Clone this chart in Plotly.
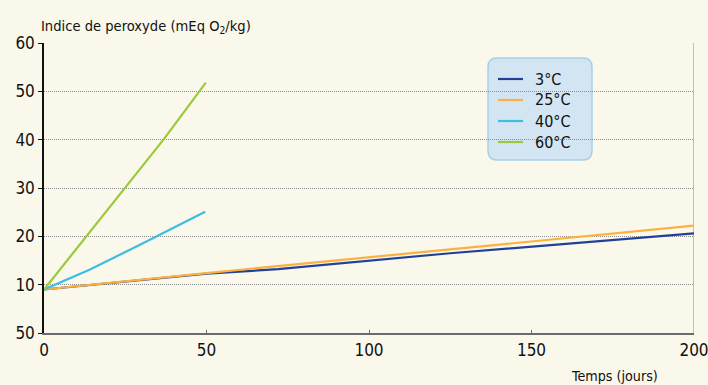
import plotly.graph_objects as go

# ---- data ----
t_3 = [0, 50, 72, 125, 200]
v_3 = [9.0, 12.3, 13.2, 16.5, 20.6]
t_25 = [0, 50, 125, 200]
v_25 = [9.0, 12.4, 17.3, 22.2]
t_40 = [0, 14, 30, 49.6]
v_40 = [9.0, 13.1, 18.4, 25.1]
t_60 = [0, 25, 37, 49.8]
v_60 = [9.0, 30.0, 40.2, 51.8]

series_names = ["3°C", "25°C", "40°C", "60°C"]
series_colors = ["#22409a", "#fbb040", "#3dbde2", "#9dc83c"]

x_ticks = [0, 50, 100, 150, 200]
y_tickvals = [0, 10, 20, 30, 40, 50, 60]
y_ticktext = ["50", "10", "20", "30", "40", "50", "60"]

FONT = "DejaVu Sans Condensed, Liberation Sans Narrow, sans-serif"
BG = "#f9f8ea"

fig = go.Figure()
for tx, vy, name, col in zip([t_3, t_25, t_40, t_60], [v_3, v_25, v_40, v_60],
                             series_names, series_colors):
    fig.add_trace(go.Scatter(x=tx, y=vy, mode="lines", name=name, showlegend=False,
                             line=dict(color=col, width=2.2)))

# pixel -> paper helpers for the decorations
W, H = 650.0, 290.0
def pxp(p): return (p - 44) / W
def pyp(p): return (333 - p) / H

# legend box (rounded rectangle) in paper coords
x0p, x1p, y0p, y1p = 488, 592, 58, 160
r = 9
path = (f"M {pxp(x0p+r)},{pyp(y0p)} L {pxp(x1p-r)},{pyp(y0p)} "
        f"Q {pxp(x1p)},{pyp(y0p)} {pxp(x1p)},{pyp(y0p+r)} "
        f"L {pxp(x1p)},{pyp(y1p-r)} Q {pxp(x1p)},{pyp(y1p)} {pxp(x1p-r)},{pyp(y1p)} "
        f"L {pxp(x0p+r)},{pyp(y1p)} Q {pxp(x0p)},{pyp(y1p)} {pxp(x0p)},{pyp(y1p-r)} "
        f"L {pxp(x0p)},{pyp(y0p+r)} Q {pxp(x0p)},{pyp(y0p)} {pxp(x0p+r)},{pyp(y0p)} Z")
fig.add_shape(type="path", path=path, xref="paper", yref="paper",
              fillcolor="#d3e5f2", line=dict(color="#a9cfe8", width=1.5), layer="below")

annotations = []
row_y = [79, 100, 121, 142]
for name, col, ry in zip(series_names, series_colors, row_y):
    fig.add_shape(type="line", xref="paper", yref="paper",
                  x0=pxp(498), x1=pxp(523), y0=pyp(ry), y1=pyp(ry),
                  line=dict(color=col, width=2.2))
    annotations.append(dict(text=name, xref="paper", yref="paper", x=pxp(533),
                            y=pyp(ry), xanchor="left", yanchor="middle",
                            showarrow=False, font=dict(size=16, family=FONT)))

# right border line
fig.add_shape(type="line", xref="x", yref="y", x0=200, x1=200, y0=0, y1=60,
              line=dict(color="#9a9a9a", width=1.2), layer="below")

annotations += [
    dict(text="Indice de peroxyde (mEq O<sub>2</sub>/kg)", xref="paper", yref="paper",
         x=pxp(39), y=pyp(27), xanchor="left", yanchor="middle",
         showarrow=False, font=dict(size=14.6, family=FONT)),
    dict(text="Temps (jours)", xref="paper", yref="paper",
         x=pxp(614), y=pyp(376), xanchor="center", yanchor="middle",
         showarrow=False, font=dict(size=14.2, family=FONT)),
]

fig.update_layout(
    width=708, height=385,
    margin=dict(l=44, r=14, t=43, b=52, autoexpand=False),
    paper_bgcolor=BG, plot_bgcolor=BG,
    font=dict(family=FONT, color="#111111", size=16),
    showlegend=False,
    xaxis=dict(range=[0, 200], tickvals=x_ticks, ticks="inside", ticklen=3,
               tickcolor="#6b6b6b", showline=True, linecolor="#6b6b6b", linewidth=2.2,
               showgrid=False, zeroline=False, automargin=False,
               ticklabeloverflow="allow",
               tickfont=dict(size=17, family=FONT)),
    yaxis=dict(range=[0, 60], tickvals=y_tickvals, ticktext=y_ticktext,
               ticks="outside", ticklen=4, tickcolor="#111111", showline=True,
               linecolor="#111111", linewidth=1.5, showgrid=True, gridcolor="#8c8c8c",
               griddash="1px,1px", gridwidth=1, zeroline=False, automargin=False,
               ticklabeloverflow="allow",
               tickfont=dict(size=17, family=FONT)),
    annotations=annotations,
)

fig.write_html("out.html", config={"displayModeBar": False},
               post_script="document.body.style.margin='0';"
                           "document.body.style.background='" + BG + "';")
